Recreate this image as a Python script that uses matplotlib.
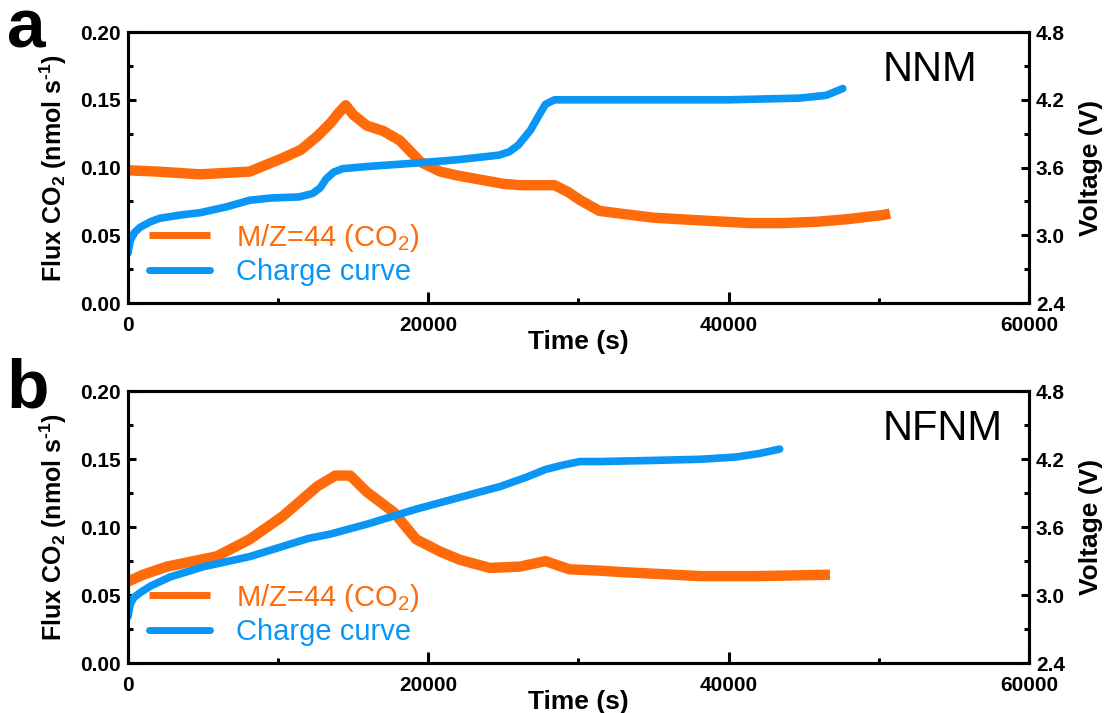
import matplotlib.pyplot as plt
from matplotlib.ticker import MultipleLocator

plt.rcParams['font.family'] = ['Liberation Sans', 'DejaVu Sans']
plt.rcParams['mathtext.default'] = 'regular'

# panel a (NNM)
t_a_co2 = [0, 2000, 4800, 8100, 10300, 11500, 12600, 13500, 14000, 14500, 15000, 15900,
           17000, 18100, 18800, 19500, 20800, 22000, 23500, 25000, 26100, 27500,
           28400, 29300, 30100, 31400, 32800, 35000, 38100, 41400, 43600, 45900,
           48000, 50300, 50750]
flux_a = [0.098, 0.097, 0.095, 0.097, 0.107, 0.113, 0.123, 0.133, 0.140, 0.146, 0.139, 0.131,
          0.127, 0.120, 0.112, 0.104, 0.097, 0.094, 0.091, 0.088, 0.087, 0.087,
          0.087, 0.082, 0.076, 0.068, 0.066, 0.063, 0.061, 0.059, 0.059, 0.060,
          0.062, 0.065, 0.066]
t_a_v = [0, 150, 400, 800, 1500, 2100, 3500, 4800, 6500, 8100, 9500, 11400, 12300,
         12800, 13200, 13700, 14300, 16000, 19200, 22000, 24700, 25400, 26000, 26800,
         27400, 27800, 28400, 30000, 35000, 40000, 44700, 46500, 47600]
volt_a = [2.84, 2.95, 3.02, 3.07, 3.12, 3.15, 3.18, 3.20, 3.25, 3.31, 3.33, 3.34, 3.37,
          3.42, 3.50, 3.56, 3.59, 3.61, 3.64, 3.67, 3.71, 3.74, 3.80, 3.93,
          4.07, 4.16, 4.20, 4.20, 4.20, 4.20, 4.215, 4.24, 4.30]

# panel b (NFNM)
t_b_co2 = [0, 1000, 2600, 5900, 8100, 10300, 12600, 13800, 14800, 15900, 17700, 19200,
           20800, 22100, 24100, 26100, 27800, 29400, 31400, 32800, 38100, 42000, 46750]
flux_b = [0.060, 0.065, 0.071, 0.0785, 0.091, 0.108, 0.130, 0.138, 0.138, 0.126, 0.111,
          0.091, 0.082, 0.076, 0.070, 0.071, 0.075, 0.069, 0.068, 0.067, 0.064, 0.064, 0.065]
t_b_v = [0, 150, 400, 800, 1500, 2800, 5000, 8100, 10300, 12000, 13500, 16000, 19200,
         22000, 24800, 26500, 27800, 29000, 30100, 31400, 35000, 38100, 40500, 42000, 43400]
volt_b = [2.81, 2.92, 2.98, 3.02, 3.08, 3.16, 3.25, 3.34, 3.43, 3.50, 3.54, 3.63, 3.76,
          3.86, 3.96, 4.04, 4.11, 4.15, 4.18, 4.18, 4.19, 4.20, 4.22, 4.25, 4.29]

panels = [('a', 'NNM', t_a_co2, flux_a, t_a_v, volt_a),
          ('b', 'NFNM', t_b_co2, flux_b, t_b_v, volt_b)]

c_orange = '#FF6A0A'
c_blue = '#0A96F5'

fig = plt.figure(figsize=(11.07, 7.13), dpi=100)
boxes = [[0.1156, 0.575, 0.8139, 0.380], [0.1156, 0.0701, 0.8139, 0.381]]

for box, (letter, name, tc, fc, tv, vv) in zip(boxes, panels):
    ax = fig.add_axes(box)
    ax2 = ax.twinx()
    l1, = ax.plot(tc, fc, color=c_orange, lw=7.5, solid_capstyle='butt',
                  solid_joinstyle='round', label='M/Z=44 (CO$_2$)')
    l2, = ax2.plot(tv, vv, color=c_blue, lw=5.5, solid_capstyle='round',
                   label='Charge curve')
    ax.set_xlim(0, 60000)
    ax.set_ylim(0, 0.20)
    ax2.set_ylim(2.4, 4.8)
    ax.xaxis.set_major_locator(MultipleLocator(20000))
    ax.xaxis.set_minor_locator(MultipleLocator(10000))
    ax.yaxis.set_major_locator(MultipleLocator(0.05))
    ax.yaxis.set_minor_locator(MultipleLocator(0.025))
    ax2.yaxis.set_major_locator(MultipleLocator(0.6))
    ax2.yaxis.set_minor_locator(MultipleLocator(0.3))
    ax.yaxis.set_major_formatter(lambda v, p: f'{v:.2f}')
    ax2.yaxis.set_major_formatter(lambda v, p: f'{v:.1f}')
    for a in (ax, ax2):
        for s in a.spines.values():
            s.set_linewidth(2.2)
        a.tick_params(which='major', direction='in', length=6, width=2.2,
                      labelsize=15, pad=5)
        a.tick_params(which='minor', direction='in', length=3.5, width=2.2)
        for lab in a.get_xticklabels() + a.get_yticklabels():
            lab.set_fontweight('bold')
    ax.tick_params(axis='x', which='major', length=8, pad=9)
    ax.tick_params(axis='x', which='both', top=False)
    ax.set_xlabel('Time (s)', fontsize=19, fontweight='bold', labelpad=-3)
    ax.set_ylabel('Flux CO$_2$ (nmol s$^{\u2010 1}$)', fontsize=18, fontweight='bold',
                  labelpad=8)
    ax2.set_ylabel('Voltage (V)', fontsize=19, fontweight='bold', labelpad=10)
    leg = ax.legend(handles=[l1, l2], loc='lower left', bbox_to_anchor=(0.01, 0.02),
                    frameon=False, fontsize=21, handlelength=2.1, handletextpad=0.9,
                    borderaxespad=0, labelspacing=0.15)
    for h in leg.get_lines():
        h.set_linewidth(5)
    for txt, col in zip(leg.get_texts(), (c_orange, c_blue)):
        txt.set_color(col)
    ax.text(0.838, 0.935, name, transform=ax.transAxes, fontsize=30,
            ha='left', va='top')
    fig.text(0.006, box[1] + box[3] - 0.022, letter, fontsize=50, fontweight='bold',
             ha='left', va='baseline')

fig.savefig('out.png', dpi=100)
